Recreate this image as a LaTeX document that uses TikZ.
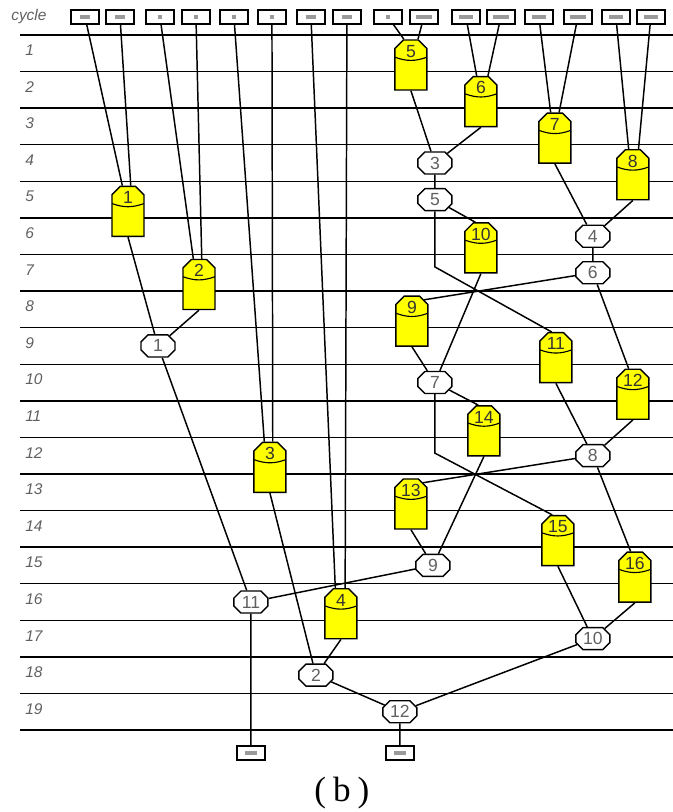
\documentclass[tikz,border=0pt]{standalone}
\usepackage{fontspec}
\setmainfont{Liberation Sans}
\newfontfamily\capfont{Liberation Serif}
\usepackage{tikz}
\usetikzlibrary{shapes.misc}
\definecolor{mulYellow}{HTML}{FFFF00}
\definecolor{addGray}{HTML}{606060}
\definecolor{barGray}{HTML}{9A9A9A}

\begin{document}
\begin{tikzpicture}[x=0.025cm, y=-0.9145cm,
      wire/.style={line width=1.05pt},
      gridline/.style={line width=1.05pt},
      io/.style={draw, line width=1.4pt, fill=white, minimum width=0.7cm,
                 minimum height=0.35cm, inner sep=0pt,
                 path picture={\fill[barGray] ([xshift=-#1/2, yshift=-0.05cm]path picture bounding box.center) rectangle ++(#1,0.1cm);}},
      io/.default=0.3cm,
      mul/.style={chamfered rectangle, chamfered rectangle corners={north west,north east},
                  chamfered rectangle xsep=3pt, chamfered rectangle ysep=3pt,
                  draw, line width=1pt, fill=mulYellow, minimum width=0.8cm,
                  minimum height=1.25cm, inner sep=0pt, text height=9pt, text depth=20pt,
                  text=black!80, font=\fontsize{12.5}{14}\selectfont,
                  path picture={\draw[line width=0.8pt] ([yshift=-0.43cm]path picture bounding box.north west)
                     to[bend right=20] ([yshift=-0.43cm]path picture bounding box.north east);}},
      add/.style={chamfered rectangle, chamfered rectangle xsep=2.5pt, chamfered rectangle ysep=2.5pt,
                  draw, line width=1pt, fill=white,
                  minimum width=0.85cm, minimum height=0.55cm, inner sep=0pt,
                  text=addGray, font=\fontsize{12.5}{14}\selectfont},
      cyc/.style={anchor=west, inner sep=0pt, text=addGray,
                  font=\itshape\fontsize{11}{13}\selectfont}]
    \useasboundingbox (0,-0.957) rectangle (673,21.24);
    % ciclos
    \foreach \k in {0,...,19}
      \draw[gridline] (20,\k) -- (673,\k);
    \node[cyc] (cyclbl) at (11,-0.5) {cycle};
    \foreach \k in {1,...,19}
      \node[cyc] (c\k) at (25,\k-0.58) {\k};
    % entradas
    \foreach \x/\w [count=\i] in {85/0.25cm,120/0.25cm,160/0.1cm,196/0.1cm,234/0.1cm,272/0.1cm,
                                 311/0.25cm,347/0.25cm,388/0.12cm,424/0.4cm,466/0.35cm,501/0.4cm,
                                 539/0.35cm,578/0.4cm,616/0.35cm,651/0.35cm}
      \node[io=\w] (in\i) at (\x,-0.5) {};
    % multiplicadores
    \node[mul] (m1)  at (128,4.82)  {1};
    \node[mul] (m2)  at (199,6.82)  {2};
    \node[mul] (m3)  at (270,11.82) {3};
    \node[mul] (m4)  at (341,15.82) {4};
    \node[mul] (m5)  at (411,0.82)  {5};
    \node[mul] (m6)  at (481,1.82)  {6};
    \node[mul] (m7)  at (555,2.82)  {7};
    \node[mul] (m8)  at (633,3.82)  {8};
    \node[mul] (m9)  at (412,7.82)  {9};
    \node[mul] (m10) at (481,5.82)  {10};
    \node[mul] (m11) at (556,8.82)  {11};
    \node[mul] (m12) at (633,9.82)  {12};
    \node[mul] (m13) at (411,12.82) {13};
    \node[mul] (m14) at (484,10.82) {14};
    \node[mul] (m15) at (558,13.82) {15};
    \node[mul] (m16) at (635,14.82) {16};
    % sumadores
    \node[add] (a1)  at (158,8.5)  {1};
    \node[add] (a2)  at (316,17.5) {2};
    \node[add] (a3)  at (435,3.5)  {3};
    \node[add] (a4)  at (593,5.5)  {4};
    \node[add] (a5)  at (435,4.5)  {5};
    \node[add] (a6)  at (593,6.5)  {6};
    \node[add] (a7)  at (435,9.5)  {7};
    \node[add] (a8)  at (593,11.5) {8};
    \node[add] (a9)  at (433,14.5) {9};
    \node[add] (a10) at (593,16.5) {10};
    \node[add] (a11) at (251,15.5) {11};
    \node[add] (a12) at (400,18.5) {12};
    % salidas
    \node[io] (out1) at (251,19.63) {};
    \node[io] (out2) at (400,19.63) {};
    \coordinate (k5) at (437,6.34);
    \coordinate (k7) at (436,11.43);
    % conexiones
    \draw[wire] (in1) -- ([xshift=-4pt]m1.north);
    \draw[wire] (in2) -- ([xshift=2pt]m1.north);
    \draw[wire] (in3) -- ([xshift=-4pt]m2.north);
    \draw[wire] (in4) -- ([xshift=2pt]m2.north);
    \draw[wire] (in5) -- ([xshift=-4pt]m3.north);
    \draw[wire] (in6) -- ([xshift=2pt]m3.north);
    \draw[wire] (in7) -- ([xshift=-4pt]m4.north);
    \draw[wire] (in8) -- ([xshift=3pt]m4.north);
    \draw[wire] (in9) -- ([xshift=-5pt]m5.north);
    \draw[wire] (in10) -- ([xshift=5pt]m5.north);
    \draw[wire] (in11) -- ([xshift=-3pt]m6.north);
    \draw[wire] (in12) -- ([xshift=5pt]m6.north);
    \draw[wire] (in13) -- ([xshift=-3pt]m7.north);
    \draw[wire] (in14) -- ([xshift=3pt]m7.north);
    \draw[wire] (in15) -- ([xshift=-3pt]m8.north);
    \draw[wire] (in16) -- ([xshift=4pt]m8.north);
    \draw[wire] (m1.south) -- (a1);
    \draw[wire] (m2.south) -- (a1);
    \draw[wire] (m5.south) -- (a3);
    \draw[wire] (m6.south) -- (a3);
    \draw[wire] (a3) -- (a5);
    \draw[wire] (m7.south) -- (a4);
    \draw[wire] (m8.south) -- (a4);
    \draw[wire] (a4) -- (a6);
    \draw[wire] (a5) -- ([xshift=-4pt]m10.north);
    \draw[wire] (a5.south) -- (a5.south |- k5) -- ([xshift=-3pt]m11.north);
    \draw[wire] (a6) -- (m9.north east);
    \draw[wire] (a6) -- ([xshift=-3pt]m12.north);
    \draw[wire] (m9.south) -- (a7);
    \draw[wire] (m10.south) -- (a7);
    \draw[wire] (m11.south) -- (a8);
    \draw[wire] (m12.south) -- (a8);
    \draw[wire] (a7) -- ([xshift=-4pt]m14.north);
    \draw[wire] (a7.south) -- (a7.south |- k7) -- ([xshift=-4pt]m15.north);
    \draw[wire] (a8) -- (m13.north east);
    \draw[wire] (a8) -- ([xshift=-3pt]m16.north);
    \draw[wire] (m13.south) -- (a9);
    \draw[wire] (m14.south) -- (a9);
    \draw[wire] (m15.south) -- (a10);
    \draw[wire] (m16.south) -- (a10);
    \draw[wire] (m3.south) -- (a2);
    \draw[wire] (m4.south) -- (a2);
    \draw[wire] (a1) -- (a11);
    \draw[wire] (a9) -- (a11);
    \draw[wire] (a2) -- (a12);
    \draw[wire] (a10) -- (a12);
    \draw[wire] (a11) -- (out1);
    \draw[wire] (a12) -- (out2);
    \node[font=\capfont\fontsize{25}{29}\selectfont] (caption) at (342,20.72) {(\kern5pt b\kern5pt)};
  \end{tikzpicture}
\end{document}
